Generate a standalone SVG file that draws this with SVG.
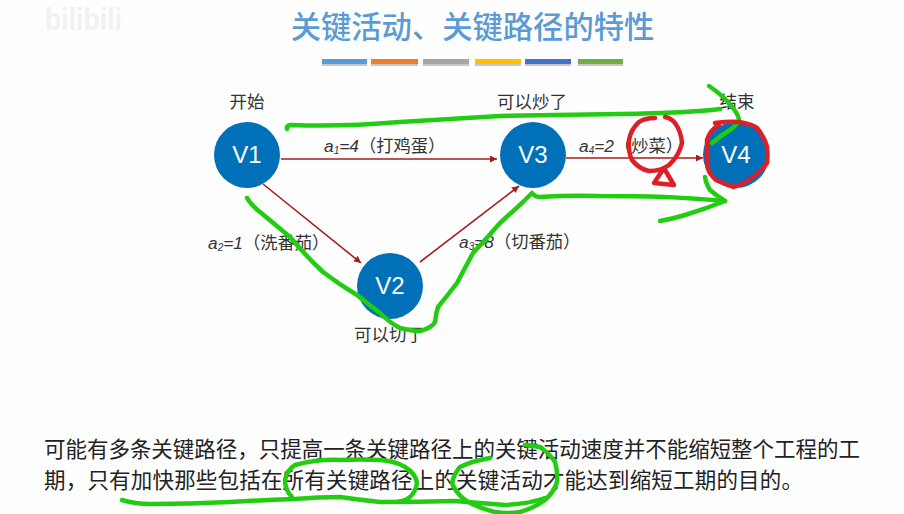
<svg xmlns="http://www.w3.org/2000/svg" width="904" height="514" viewBox="0 0 904 514">
<style>
text{font-family:"Noto Sans CJK SC","Liberation Sans",sans-serif;fill:#333}
.title{font-size:30.3px;fill:#5b9bd5;text-anchor:middle;font-weight:500}
.cap{font-size:17.5px;text-anchor:middle}
.lab{font-size:17.3px}
.lab .m{font-family:"Liberation Sans",sans-serif;font-style:italic}
.lab .s{font-family:"Liberation Sans",sans-serif;font-style:italic;font-size:10px}
.body{font-size:21.5px;fill:#222}
.vt{font-family:"Liberation Sans",sans-serif;font-size:24px;fill:#fff;text-anchor:middle}
.n{fill:#0070b8}
.c{stroke:#a81c1c;stroke-width:1.6;fill:none;marker-end:url(#a)}
.g{fill:none;stroke:#22cc11;stroke-width:4.5;stroke-linecap:round;stroke-linejoin:round}
.r{fill:none;stroke:#dd1f2a;stroke-width:4.5;stroke-linecap:round;stroke-linejoin:round}
.sh{fill:#999;opacity:.55}
</style>
<defs>
<marker id="a" markerWidth="8" markerHeight="8" refX="7" refY="3.5" orient="auto" markerUnits="userSpaceOnUse"><path d="M0 0L7 3.5L0 7Z" fill="#a81c1c"/></marker>
</defs>
<rect width="904" height="514" fill="#fefefe"/>
<text x="45" y="30" textLength="77" lengthAdjust="spacingAndGlyphs" style="font-family:'Liberation Sans',sans-serif;font-size:32px;font-weight:700;fill:#f1f1f1">bilibili</text>
<text class="title" x="472.5" y="38">关键活动&#x3001;关键路径的特性</text>
<g id="title-bars">
<rect class="sh" x="322" y="61" width="45" height="5"/><rect class="sh" x="371" y="61" width="47" height="5"/><rect class="sh" x="423" y="61" width="46" height="5"/><rect class="sh" x="475" y="61" width="46" height="5"/><rect class="sh" x="525" y="61" width="46" height="5"/><rect class="sh" x="578" y="61" width="45" height="5"/>
<rect x="322" y="59" width="45" height="5" fill="#5b9bd5"/><rect x="371" y="59" width="47" height="5" fill="#ed7d31"/><rect x="423" y="59" width="46" height="5" fill="#a5a5a5"/><rect x="475" y="59" width="46" height="5" fill="#ffc000"/><rect x="525" y="59" width="46" height="5" fill="#4472c4"/><rect x="578" y="59" width="45" height="5" fill="#70ad47"/>
</g>
<g id="connectors">
<line class="c" x1="281" y1="159" x2="497" y2="159"/>
<line class="c" x1="566" y1="158" x2="703" y2="158"/>
<line class="c" x1="263" y1="184" x2="361" y2="263"/>
<line class="c" x1="420" y1="262" x2="519" y2="186"/>
<text class="lab" x="324" y="152"><tspan class="m">a</tspan><tspan class="s" dy="2">1</tspan><tspan class="m" dy="-2">=4</tspan>&#xFF08;打鸡蛋&#xFF09;</text>
<text class="lab" x="208" y="249"><tspan class="m">a</tspan><tspan class="s" dy="2">2</tspan><tspan class="m" dy="-2">=1</tspan>&#xFF08;洗番茄&#xFF09;</text>
<text class="lab" x="459" y="248"><tspan class="m">a</tspan><tspan class="s" dy="2">3</tspan><tspan class="m" dy="-2">=8</tspan>&#xFF08;切番茄&#xFF09;</text>
<text class="lab" x="579" y="152"><tspan class="m">a</tspan><tspan class="s" dy="2">4</tspan><tspan class="m" dy="-2">=2</tspan>&#xFF08;炒菜&#xFF09;</text>
</g>
<g id="V1"><circle class="n" cx="247" cy="155" r="33"/><text class="vt" x="247" y="163">V1</text><text class="cap" x="247" y="108">开始</text></g>
<g id="V2"><circle class="n" cx="390" cy="286" r="33"/><text class="vt" x="390" y="294">V2</text><text class="cap" x="389" y="341">可以切了</text></g>
<g id="V3"><circle class="n" cx="533" cy="155" r="33"/><text class="vt" x="533" y="163">V3</text><text class="cap" x="532" y="108">可以炒了</text></g>
<g id="V4"><circle class="n" cx="736" cy="155" r="33"/><text class="vt" x="736" y="163">V4</text><text class="cap" x="737" y="108">结束</text></g>
<text class="body" x="44" y="457" textLength="816">可能有多条关键路径&#xFF0C;只提高一条关键路径上的关键活动速度并不能缩短整个工程的工</text>
<text class="body" x="44" y="488" textLength="759">期&#xFF0C;只有加快那些包括在所有关键路径上的关键活动才能达到缩短工期的目的&#x3002;</text>
<g id="annotations">
<path class="g" d="M287 129Q286 125 292 125Q340 127 400 122Q452 119 500 116Q560 115 620 114Q690 113 720 109"/>
<path class="g" d="M709 86Q725 97 733 108Q739 116 739 120Q737 125 730 130Q720 136 712 143"/>
<path class="g" d="M247 198Q252 206 260 212L290 237Q305 255 323 272Q340 285 357 295Q368 304 380 313Q390 323 400 328Q412 331 420 331Q432 328 435 322Q436 313 438 307Q447 296 457 283Q465 268 473 253Q487 238 500 223Q512 212 523 202L532 193Q535 197 539 197Q570 195 599 196Q635 196 665 197Q690 198 725 201"/>
<path class="g" d="M705 177Q706 184 710 190Q717 196 725 201Q705 209 685 215Q672 219 660 221"/>
<path class="r" d="M655 118Q645 118 639 122Q631 129 629 140Q628 152 632 160Q639 169 649 171Q661 171 669 165Q679 156 682 143Q681 131 675 123Q671 118 665 117"/>
<path class="r" stroke-width="5" d="M664 168L654 183L674 185L665 170"/>
<path class="r" d="M715 123Q730 121 739 122Q752 124 757 128Q765 138 767 147Q768 155 767 163Q760 172 752 178Q745 183 734 187Q722 183 716 180Q707 172 707 163L707 140Q710 130 719 125"/>
<path class="g" d="M122 500Q135 504 150 504Q190 504 230 502Q262 500 295 499Q318 497 340 497Q360 500 380 502Q418 502 455 501Q480 503 505 505Q528 504 545 498"/>
<path class="g" d="M292 497Q285 490 285 480Q287 470 295 465Q318 459 340 460Q362 459 380 460Q395 461 405 467Q416 474 417 483Q416 491 410 497Q405 501 397 502"/>
<path class="g" d="M525 445L540 447Q550 454 555 462Q558 472 557 482Q554 492 545 500Q534 508 520 512Q507 514 495 512Q478 508 465 500Q455 492 452 483Q454 474 460 467Q472 461 490 458"/>
</g>
</svg>
